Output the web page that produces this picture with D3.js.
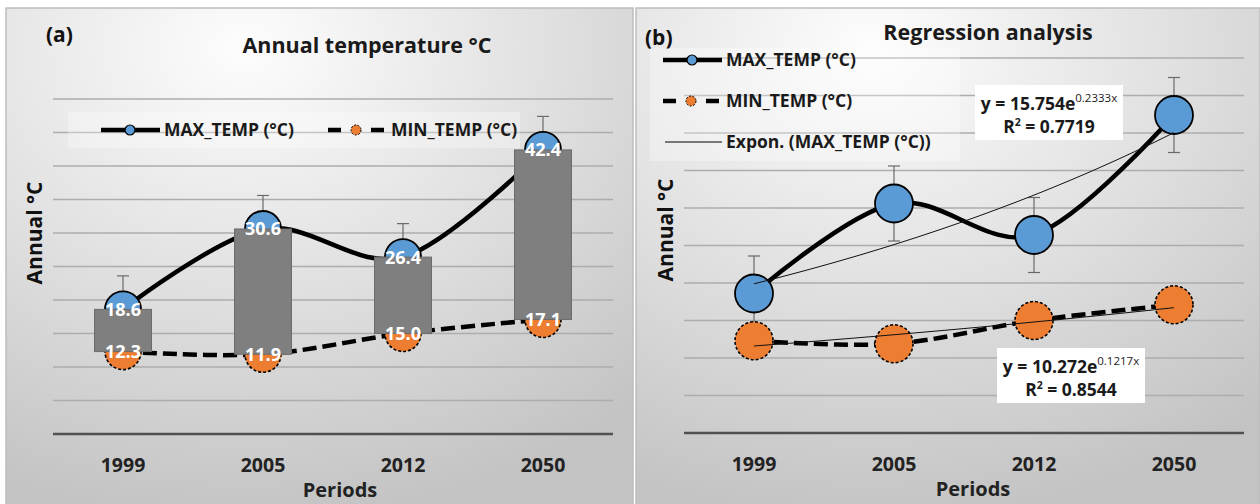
<!DOCTYPE html>
<html>
<head>
<meta charset="utf-8">
<script src="https://cdn.jsdelivr.net/npm/d3@7"></script>
<style>
  body { margin: 0; background: #fff; }
  svg { display: block; font-family: "Open Sans", sans-serif; }
</style>
</head>
<body>
<svg id="chart" width="1260" height="504"></svg>
<script>
// data
const periods = ["1999", "2005", "2012", "2050"];
const maxTemp = [18.6, 30.6, 26.4, 42.4];
const minTemp = [12.3, 11.9, 15.0, 17.1];
const maxErr = [5, 5, 5, 5];
const yTicks = [0, 5, 10, 15, 20, 25, 30, 35, 40, 45, 50];
// exponential trendlines shown in panel (b): y = a * e^(b x), x = 1..4
const trendMax = [15.754, 0.2333];
const trendMin = [10.272, 0.1217];
const r2 = [0.7719, 0.8544];

const BLUE = "#5b9bd5", ORANGE = "#ed7d31";
const svg = d3.select("#chart");
const defs = svg.append("defs");
const grad = defs.append("radialGradient").attr("id", "bg")
  .attr("cx", 0.38).attr("cy", 0.08).attr("r", 0.95);
grad.append("stop").attr("offset", 0).attr("stop-color", "#fdfdfd");
grad.append("stop").attr("offset", 0.55).attr("stop-color", "#dedede");
grad.append("stop").attr("offset", 1).attr("stop-color", "#c3c3c3");

let draw_panel = function(cfg) {
  let g = svg.append("g");
  g.append("rect")
    .attr("x", cfg.px).attr("y", 8).attr("width", cfg.pw).attr("height", 500)
    .attr("fill", "url(#bg)").attr("stroke", "#bdbdbd").attr("stroke-width", 1.5);

  let x = d3.scaleBand().domain(periods).range([cfg.x0, cfg.x1]);
  let y = d3.scaleLinear().domain([0, 50]).range([cfg.y0, cfg.y1]);
  let cx = d => x(d) + x.bandwidth() / 2;

  // gridlines
  g.append("g").selectAll("line").data(yTicks.slice(1)).join("line")
    .attr("x1", cfg.x0).attr("x2", cfg.x1)
    .attr("y1", d => y(d)).attr("y2", d => y(d))
    .attr("stroke", "#adadad").attr("stroke-width", 1.3);
  g.append("line")
    .attr("x1", cfg.x0).attr("x2", cfg.x1).attr("y1", y(0)).attr("y2", y(0))
    .attr("stroke", "#505050").attr("stroke-width", 2.5);

  // tick labels
  g.append("g").selectAll("text").data(periods).join("text")
    .attr("x", d => cx(d)).attr("y", y(0) + 38)
    .attr("text-anchor", "middle").attr("font-size", 19.5).attr("font-weight", 700)
    .attr("fill", "#222").text(d => d);

  g.append("text").attr("x", cfg.periodsX).attr("y", y(0) + 63)
    .attr("text-anchor", "middle").attr("font-size", 20).attr("font-weight", 700)
    .attr("fill", "#222").text("Periods");
  g.append("text")
    .attr("transform", `translate(${cfg.ylabX},${cfg.ylabY}) rotate(-90)`)
    .attr("text-anchor", "middle").attr("font-size", 21).attr("font-weight", 700)
    .attr("fill", "#111").text("Annual °C");
  g.append("text").attr("x", cfg.tagX).attr("y", cfg.tagY)
    .attr("font-size", 21).attr("font-weight", 700).attr("fill", "#111").text(cfg.tag);
  g.append("text").attr("x", cfg.titleX).attr("y", cfg.titleY)
    .attr("text-anchor", "middle").attr("font-size", 21.5).attr("font-weight", 700)
    .attr("fill", "#1a1a1a").text(cfg.title);

  return {g: g, x: x, y: y, cx: cx};
};

let line_gen = (p, vals) => d3.line()
  .x((d, i) => p.cx(periods[i])).y(d => p.y(d))
  .curve(d3.curveCardinal.tension(0))(vals);

let draw_errors = function(p) {
  let eg = p.g.append("g").attr("stroke", "#6a6a6a").attr("stroke-width", 1.2);
  maxTemp.forEach((v, i) => {
    let xx = p.cx(periods[i]);
    eg.append("line").attr("x1", xx).attr("x2", xx)
      .attr("y1", p.y(v + maxErr[i])).attr("y2", p.y(v - maxErr[i]));
    [v + maxErr[i], v - maxErr[i]].forEach(e => {
      eg.append("line").attr("x1", xx - 6).attr("x2", xx + 6)
        .attr("y1", p.y(e)).attr("y2", p.y(e));
    });
  });
};

let draw_lines = function(p) {
  p.g.append("path").attr("d", line_gen(p, minTemp)).attr("fill", "none")
    .attr("stroke", "#000").attr("stroke-width", 4.5).attr("stroke-dasharray", "14,6");
  p.g.append("path").attr("d", line_gen(p, maxTemp)).attr("fill", "none")
    .attr("stroke", "#000").attr("stroke-width", 4.5);
};

let draw_markers = function(p, r) {
  p.g.append("g").selectAll("circle").data(maxTemp).join("circle")
    .attr("cx", (d, i) => p.cx(periods[i])).attr("cy", d => p.y(d)).attr("r", r)
    .attr("fill", BLUE).attr("stroke", "#000").attr("stroke-width", 1.8);
  p.g.append("g").selectAll("circle").data(minTemp).join("circle")
    .attr("cx", (d, i) => p.cx(periods[i])).attr("cy", d => p.y(d)).attr("r", r)
    .attr("fill", ORANGE).attr("stroke", "#000").attr("stroke-width", 1.6)
    .attr("stroke-dasharray", "3,2");
};

let legend_item = function(g, x, y, kind, label) {
  if (kind === "max") {
    g.append("line").attr("x1", x).attr("x2", x + 59).attr("y1", y).attr("y2", y)
      .attr("stroke", "#000").attr("stroke-width", 4.5);
    g.append("circle").attr("cx", x + 29).attr("cy", y).attr("r", 5)
      .attr("fill", BLUE).attr("stroke", "#000").attr("stroke-width", 1.2);
  } else if (kind === "min") {
    [[x, x + 13], [x + 43, x + 56]].forEach(s => {
      g.append("line").attr("x1", s[0]).attr("x2", s[1]).attr("y1", y).attr("y2", y)
        .attr("stroke", "#000").attr("stroke-width", 4.5);
    });
    g.append("circle").attr("cx", x + 28).attr("cy", y).attr("r", 5)
      .attr("fill", ORANGE).attr("stroke", "#000").attr("stroke-width", 1)
      .attr("stroke-dasharray", "2,1.5");
  } else {
    g.append("line").attr("x1", x + 2).attr("x2", x + 59).attr("y1", y).attr("y2", y)
      .attr("stroke", "#000").attr("stroke-width", 1);
  }
  g.append("text").attr("x", x + 63).attr("y", y).attr("dy", "0.35em")
    .attr("font-size", 17.5).attr("font-weight", 700).attr("fill", "#1a1a1a").text(label);
};

// ---------- panel (a) ----------
let pa = draw_panel({
  px: 6, pw: 627, x0: 53, x1: 613, y0: 434, y1: 99,
  periodsX: 340, ylabX: 42, ylabY: 233, tag: "(a)", tagX: 46, tagY: 42,
  title: "Annual temperature °C", titleX: 367, titleY: 53
});
pa.g.append("rect").attr("x", 68).attr("y", 112).attr("width", 452).attr("height", 36)
  .attr("fill", "#fff").attr("opacity", 0.3);
legend_item(pa.g, 101, 130, "max", "MAX_TEMP (°C)");
legend_item(pa.g, 328, 130, "min", "MIN_TEMP (°C)");

draw_errors(pa);
draw_lines(pa);
draw_markers(pa, 18);

// up/down bars between the two series
pa.g.append("g").selectAll("rect").data(periods).join("rect")
  .attr("x", d => pa.cx(d) - 28.5).attr("width", 57)
  .attr("y", (d, i) => pa.y(Math.max(maxTemp[i], minTemp[i])))
  .attr("height", (d, i) => Math.abs(pa.y(minTemp[i]) - pa.y(maxTemp[i])))
  .attr("fill", "#7f7f7f").attr("stroke", "#6b6b6b").attr("stroke-width", 1);

// data labels
[maxTemp, minTemp].forEach(vals => {
  pa.g.append("g").selectAll("text").data(vals).join("text")
    .attr("x", (d, i) => pa.cx(periods[i])).attr("y", d => pa.y(d)).attr("dy", "0.36em")
    .attr("text-anchor", "middle").attr("font-size", 18).attr("font-weight", 700)
    .attr("fill", "#fff").text(d => d.toFixed(1));
});

// ---------- panel (b) ----------
let pb = draw_panel({
  px: 636, pw: 624, x0: 684, x1: 1244, y0: 433, y1: 58,
  periodsX: 973, ylabX: 673, ylabY: 230, tag: "(b)", tagX: 645, tagY: 45,
  title: "Regression analysis", titleX: 988, titleY: 40
});
pb.g.append("rect").attr("x", 650).attr("y", 48).attr("width", 310).attr("height", 113)
  .attr("fill", "#fff").attr("opacity", 0.3);
legend_item(pb.g, 663, 60, "max", "MAX_TEMP (°C)");
legend_item(pb.g, 663, 101, "min", "MIN_TEMP (°C)");
legend_item(pb.g, 663, 142, "trend", "Expon. (MAX_TEMP (°C))");

draw_errors(pb);
draw_lines(pb);
draw_markers(pb, 19);

// exponential trendlines
let xi = d3.scaleLinear().domain([1, 4]).range([pb.cx(periods[0]), pb.cx(periods[3])]);
[trendMax, trendMin].forEach(c => {
  let pts = d3.range(1, 4.001, 0.05).map(t => [xi(t), pb.y(c[0] * Math.exp(c[1] * t))]);
  pb.g.append("path").attr("d", d3.line()(pts)).attr("fill", "none")
    .attr("stroke", "#111").attr("stroke-width", 1);
});

// equation boxes
let eq_box = function(x, y, c, rr) {
  let g = pb.g.append("g");
  g.append("rect").attr("x", x).attr("y", y).attr("width", 148).attr("height", 55).attr("fill", "#fff");
  let t = g.append("text").attr("x", x + 74).attr("y", y + 25).attr("text-anchor", "middle")
    .attr("font-size", 17.5).attr("font-weight", 700).attr("fill", "#1a1a1a");
  t.append("tspan").text("y = " + c[0].toFixed(3) + "e");
  t.append("tspan").attr("dy", -8).attr("font-size", 11.5).attr("font-weight", 400).text(c[1] + "x");
  let t2 = g.append("text").attr("x", x + 74).attr("y", y + 48).attr("text-anchor", "middle")
    .attr("font-size", 17.5).attr("font-weight", 700).attr("fill", "#1a1a1a");
  t2.append("tspan").text("R");
  t2.append("tspan").attr("dy", -7).attr("font-size", 10.5).text("2");
  t2.append("tspan").attr("dy", 7).text(" = " + rr);
};
eq_box(975, 85, trendMax, r2[0]);
eq_box(997, 348, trendMin, r2[1]);
</script>
</body>
</html>
